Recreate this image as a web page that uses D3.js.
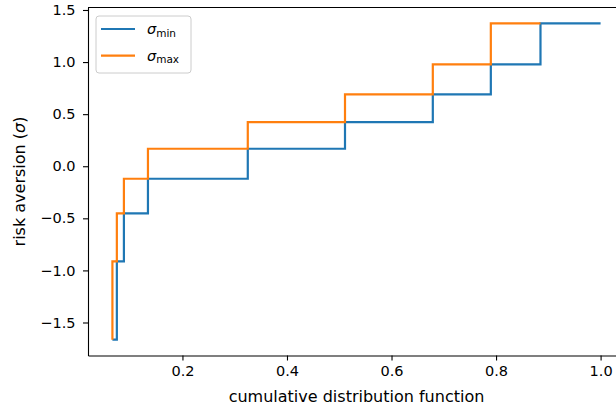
<!DOCTYPE html>
<html>
<head>
<meta charset="UTF-8">
<title>risk aversion vs cdf</title>
<script src="https://d3js.org/d3.v7.min.js"></script>
<style>
  body { margin: 0; background: #fff; }
  svg { display: block; overflow: hidden; }
  text { font-family: "DejaVu Sans", sans-serif; fill: #000; }
  .axis text { font-size: 14.5px; }
  .axis path, .axis line { stroke: #000; stroke-width: 1.1px; }
</style>
</head>
<body>
<div id="chart"></div>
<script>
// step breakpoints (cumulative distribution function) and sigma levels
const cdf = [0.066, 0.0745, 0.088, 0.134, 0.325, 0.511, 0.679, 0.790, 0.885, 1.0];
const sigmaLevels = [-1.665, -0.913, -0.452, -0.12, 0.168, 0.423, 0.69, 0.978, 1.372];
const xTicks = [0.2, 0.4, 0.6, 0.8, 1.0];
const yTicks = [-1.5, -1.0, -0.5, 0.0, 0.5, 1.0, 1.5];
const seriesNames = ["min", "max"];
const colors = ["#1f77b4", "#ff7f0e"];

const width = 616, height = 408;
const plot = { left: 88, right: 625, top: 7.5, bottom: 355.5 };

// sigma_min: step after, extends to the last cdf point
const minPts = sigmaLevels.map((s, i) => [cdf[i], s]);
minPts.push([cdf[cdf.length - 1], sigmaLevels[sigmaLevels.length - 1]]);
// sigma_max: step before
const maxPts = sigmaLevels.map((s, i) => [cdf[i], s]);

// matplotlib style 5% margins
function padded(lo, hi) { const r = hi - lo; return [lo - 0.05 * r, hi + 0.05 * r]; }

const x = d3.scaleLinear()
  .domain(padded(d3.min(cdf), d3.max(cdf)))
  .range([plot.left, plot.right]);
const y = d3.scaleLinear()
  .domain(padded(d3.min(sigmaLevels), d3.max(sigmaLevels)))
  .range([plot.bottom, plot.top]);

const svg = d3.select("#chart").append("svg")
  .attr("width", width).attr("height", height);

// lines
const lineAfter = d3.line().x(d => x(d[0])).y(d => y(d[1])).curve(d3.curveStepAfter);
const lineBefore = d3.line().x(d => x(d[0])).y(d => y(d[1])).curve(d3.curveStepBefore);

svg.append("path").datum(minPts)
  .attr("d", lineAfter)
  .attr("fill", "none").attr("stroke", colors[0]).attr("stroke-width", 2.2);
svg.append("path").datum(maxPts)
  .attr("d", lineBefore)
  .attr("fill", "none").attr("stroke", colors[1]).attr("stroke-width", 2.2);

// axes
const fmt = d3.format(".1f");
svg.append("g")
  .attr("class", "axis")
  .attr("transform", `translate(0,${plot.bottom})`)
  .call(d3.axisBottom(x).tickValues(xTicks).tickFormat(fmt).tickSize(5).tickPadding(5).tickSizeOuter(0));
svg.append("g")
  .attr("class", "axis")
  .attr("transform", `translate(${plot.left},0)`)
  .call(d3.axisLeft(y).tickValues(yTicks).tickFormat(fmt).tickSize(5).tickPadding(7.5).tickSizeOuter(0));

// top and right spines
svg.append("line")
  .attr("x1", plot.left).attr("x2", plot.right)
  .attr("y1", plot.top).attr("y2", plot.top)
  .attr("stroke", "#000").attr("stroke-width", 1.1);
svg.append("line")
  .attr("x1", plot.right).attr("x2", plot.right)
  .attr("y1", plot.top).attr("y2", plot.bottom)
  .attr("stroke", "#000").attr("stroke-width", 1.1);

// axis titles
svg.append("text")
  .attr("x", (plot.left + plot.right) / 2)
  .attr("y", 401.5)
  .attr("text-anchor", "middle")
  .attr("font-size", 16)
  .text("cumulative distribution function");

const yl = svg.append("text")
  .attr("transform", `translate(25,${(plot.top + plot.bottom) / 2}) rotate(-90)`)
  .attr("text-anchor", "middle")
  .attr("font-size", 16);
yl.append("tspan").text("risk aversion (");
yl.append("tspan").attr("font-style", "italic").text("σ");
yl.append("tspan").text(")");

// legend
const legend = svg.append("g");
legend.append("rect")
  .attr("x", 96).attr("y", 16).attr("width", 95).attr("height", 57)
  .attr("rx", 3).attr("fill", "#fff").attr("fill-opacity", 0.8)
  .attr("stroke", "#cccccc").attr("stroke-width", 1);

seriesNames.forEach((name, i) => {
  const ly = 29 + i * 26.7;
  legend.append("line")
    .attr("x1", 101).attr("x2", 135)
    .attr("y1", ly).attr("y2", ly)
    .attr("stroke", colors[i]).attr("stroke-width", 2.2);
  const t = legend.append("text")
    .attr("x", 147).attr("y", ly + 5)
    .attr("font-size", 14.5);
  t.append("tspan").attr("font-style", "italic").text("σ");
  t.append("tspan").attr("font-size", 10.5).attr("dy", 2.5).text(name);
});
</script>
</body>
</html>
